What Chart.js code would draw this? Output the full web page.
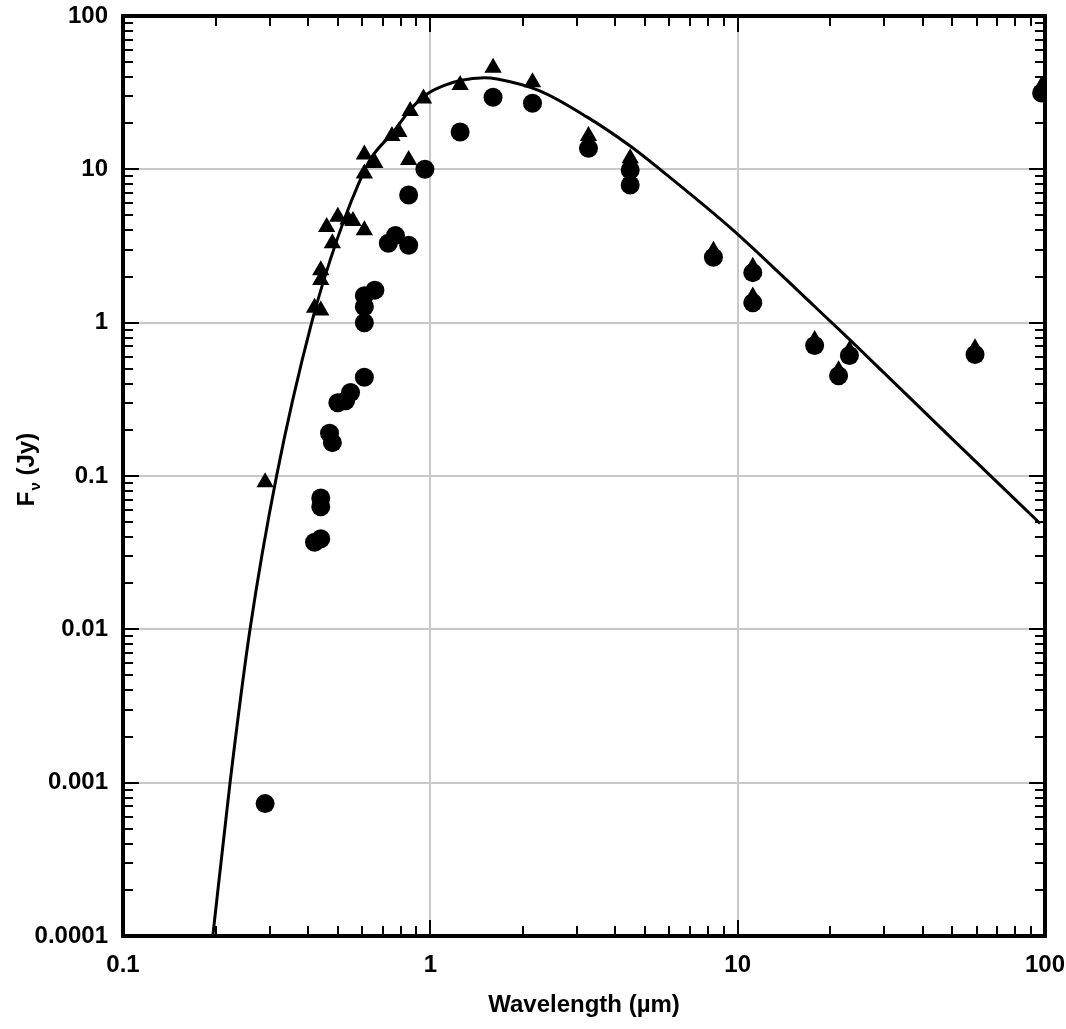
<!DOCTYPE html>
<html>
<head>
<meta charset="utf-8">
<script src="https://cdn.jsdelivr.net/npm/chart.js@4.4.1/dist/chart.umd.min.js"></script>
<style>
  html, body { margin: 0; padding: 0; background: #fff; }
</style>
</head>
<body>
<canvas id="sedChart" width="1066" height="1029"></canvas>
<script>
// photometry plotted as triangles (wavelength in micron, flux in Jy)
const triWave = [0.29, 0.42, 0.44, 0.44, 0.44, 0.46, 0.48, 0.50, 0.54, 0.56, 0.61, 0.61, 0.61, 0.66,
                 0.75, 0.79, 0.85, 0.86, 0.95, 1.25, 1.6, 2.15, 3.27, 4.47, 8.34, 11.2, 11.2,
                 17.8, 21.3, 23.1, 59.2, 97.5];
const triFlux = [0.091, 1.25, 1.2, 1.9, 2.2, 4.2, 3.3, 4.9, 4.7, 4.6, 4.0, 9.4, 12.5, 11,
                 16.5, 17.5, 11.5, 24, 29, 35.5, 46, 37, 16.5, 11.8, 2.95, 2.32, 1.48,
                 0.77, 0.49, 0.66, 0.68, 35];

// photometry plotted as filled circles
const dotWave = [0.29, 0.42, 0.44, 0.44, 0.44, 0.47, 0.48, 0.50, 0.53, 0.55, 0.61, 0.61, 0.61, 0.61,
                 0.66, 0.73, 0.77, 0.85, 0.85, 0.96, 1.25, 1.6, 2.15, 3.27, 4.47, 4.47, 8.34,
                 11.2, 11.2, 17.8, 21.3, 23.1, 59.2, 97.5];
const dotFlux = [0.00073, 0.037, 0.039, 0.063, 0.072, 0.19, 0.165, 0.30, 0.31, 0.35, 0.44, 1.0, 1.27, 1.5,
                 1.63, 3.3, 3.7, 3.2, 6.8, 10, 17.5, 29.5, 27, 13.7, 9.9, 7.9, 2.67,
                 2.12, 1.35, 0.71, 0.45, 0.61, 0.62, 31.5];

// model curve
const modelWave = [0.196, 0.223, 0.259, 0.316, 0.411, 0.50, 0.613, 0.646, 0.757, 0.86, 0.976,
                   1.1, 1.25, 1.5, 1.65, 2.27, 3.24, 4.47, 5.59, 9.66, 17.2, 22.7, 49.1, 96.4];
const modelFlux = [0.0001, 0.001, 0.01, 0.1, 1.0, 3.6, 10, 12.1, 17.5, 24.5, 31,
                   35, 38, 39.6, 38.8, 32.5, 21.9, 14.2, 10, 4.02, 1.36, 0.805, 0.18, 0.049];

const xTicks = [0.1, 1, 10, 100];
const xTickLabels = ['0.1', '1', '10', '100'];
const yTicks = [0.0001, 0.001, 0.01, 0.1, 1, 10, 100];
const yTickLabels = ['0.0001', '0.001', '0.01', '0.1', '1', '10', '100'];

const FONT = '"Liberation Sans", Arial, sans-serif';

function pairs(xs, ys) {
    return xs.map((x, i) => ({ x: x, y: ys[i] }));
}

// 1..9 steps inside each decade, used for the little inward tick marks
function decadeSteps(ticks) {
    const out = [];
    for (let i = 0; i < ticks.length - 1; i++) {
        for (let k = 1; k <= 9; k++) {
            out.push({ value: ticks[i] * k, major: k === 1 });
        }
    }
    out.push({ value: ticks[ticks.length - 1], major: true });
    return out;
}

const frameAndTicks = {
    id: 'frameAndTicks',
    afterDraw(chart) {
        const ctx = chart.ctx;
        const area = chart.chartArea;
        const xs = chart.scales.x;
        const ys = chart.scales.y;

        ctx.save();
        ctx.strokeStyle = '#000';
        ctx.lineWidth = 2;
        ctx.beginPath();
        decadeSteps(xTicks).forEach(t => {
            const px = Math.round(xs.getPixelForValue(t.value));
            const len = t.major ? 16 : 10;
            ctx.moveTo(px, area.bottom); ctx.lineTo(px, area.bottom - len);
            ctx.moveTo(px, area.top); ctx.lineTo(px, area.top + len);
        });
        decadeSteps(yTicks).forEach(t => {
            const py = Math.round(ys.getPixelForValue(t.value));
            const len = t.major ? 16 : 10;
            ctx.moveTo(area.left, py); ctx.lineTo(area.left + len, py);
            ctx.moveTo(area.right, py); ctx.lineTo(area.right - len, py);
        });
        ctx.stroke();

        ctx.lineWidth = 4;
        ctx.strokeRect(area.left, area.top, area.right - area.left, area.bottom - area.top);

        // y axis title with a subscript nu
        ctx.translate(26, 470);
        ctx.rotate(-Math.PI / 2);
        ctx.fillStyle = '#000';
        ctx.textBaseline = 'alphabetic';
        const big = 'bold 24px ' + FONT;
        const small = 'bold 15px ' + FONT;
        ctx.font = big;
        const wF = ctx.measureText('F').width;
        const wRest = ctx.measureText(' (Jy)').width;
        ctx.font = small;
        const wNu = ctx.measureText('\u03bd').width;
        let x0 = -(wF + wNu + wRest) / 2;
        ctx.font = big;
        ctx.fillText('F', x0, 8);
        ctx.font = small;
        ctx.fillText('\u03bd', x0 + wF + 1, 14);
        ctx.font = big;
        ctx.fillText(' (Jy)', x0 + wF + wNu + 1, 8);
        ctx.restore();
    }
};

const ctx = document.getElementById('sedChart');

new Chart(ctx, {
    type: 'scatter',
    data: {
        datasets: [
            {
                label: 'model',
                data: pairs(modelWave, modelFlux),
                showLine: true,
                borderColor: '#000',
                borderWidth: 3,
                pointRadius: 0,
                cubicInterpolationMode: 'monotone',
                fill: false
            },
            {
                label: 'dots',
                data: pairs(dotWave, dotFlux),
                pointStyle: 'circle',
                pointRadius: 9.5,
                backgroundColor: '#000',
                borderColor: '#000',
                borderWidth: 0
            },
            {
                label: 'triangles',
                data: pairs(triWave, triFlux),
                pointStyle: 'triangle',
                pointRadius: 10,
                backgroundColor: '#000',
                borderColor: '#000',
                borderWidth: 0
            }
        ]
    },
    options: {
        responsive: false,
        animation: false,
        devicePixelRatio: 1,
        layout: {
            padding: { top: 16, right: 21, bottom: 0, left: 0 }
        },
        plugins: {
            legend: { display: false },
            tooltip: { enabled: false }
        },
        scales: {
            x: {
                type: 'logarithmic',
                min: 0.1,
                max: 100,
                afterBuildTicks: s => { s.ticks = xTicks.map(v => ({ value: v })); },
                afterFit: s => { s.height = 93; s.paddingLeft = 0; s.paddingRight = 0; },
                ticks: {
                    autoSkip: false,
                    maxRotation: 0,
                    padding: 15,
                    color: '#000',
                    font: { family: FONT, size: 24, weight: 'bold' },
                    callback: (v, i) => xTickLabels[i]
                },
                grid: { color: '#c8c8c8', lineWidth: 2, drawTicks: false },
                border: { display: false },
                title: {
                    display: true,
                    text: 'Wavelength (\u00b5m)',
                    color: '#000',
                    font: { family: FONT, size: 24, weight: 'bold' },
                    padding: { top: 0, bottom: 9 }
                }
            },
            y: {
                type: 'logarithmic',
                min: 0.0001,
                max: 100,
                afterBuildTicks: s => { s.ticks = yTicks.map(v => ({ value: v })); },
                afterFit: s => { s.width = 123; s.paddingTop = 0; s.paddingBottom = 0; },
                ticks: {
                    autoSkip: false,
                    padding: 15,
                    color: '#000',
                    font: { family: FONT, size: 24, weight: 'bold' },
                    callback: (v, i) => yTickLabels[i]
                },
                grid: { color: '#c8c8c8', lineWidth: 2, drawTicks: false },
                border: { display: false }
            }
        }
    },
    plugins: [frameAndTicks]
});
</script>
</body>
</html>
